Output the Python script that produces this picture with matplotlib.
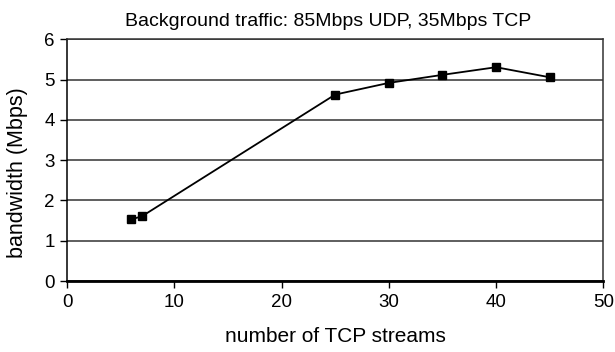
import matplotlib
matplotlib.use("Agg")
import matplotlib.pyplot as plt

# number of TCP streams vs. measured bandwidth
streams = [6, 7, 25, 30, 35, 40, 45]
bandwidth = [1.53, 1.61, 4.63, 4.92, 5.12, 5.31, 5.06]

plt.rcParams['font.family'] = ['Liberation Sans', 'DejaVu Sans']

fig = plt.figure(figsize=(6.15, 3.52), dpi=100)
ax = fig.add_axes([0.109, 0.2017, 0.872, 0.6863])

ax.plot(streams, bandwidth, color='black', lw=1.3, marker='s', ms=5.8,
        mfc='black', mec='black', zorder=3)

ax.set_xlim(0, 50)
ax.set_ylim(0, 6)
ax.set_xticks(range(0, 51, 10))
ax.set_yticks(range(0, 7))
ax.yaxis.grid(True, color='#333333', lw=1.1)
ax.set_axisbelow(True)

for side in ['top', 'right', 'left']:
    ax.spines[side].set_linewidth(1.1)
    ax.spines[side].set_color('#333333')
ax.spines['bottom'].set_linewidth(2)
ax.spines['left'].set_color('black')

ax.tick_params(axis='both', labelsize=13.5, length=5, width=1, direction='out', pad=4)

ax.set_xlabel('number of TCP streams', fontsize=15, labelpad=12)
ax.set_ylabel('bandwidth (Mbps)', fontsize=15.5)
ax.yaxis.set_label_coords(-0.072, 0.45)
ax.set_title('Background traffic: 85Mbps UDP, 35Mbps TCP', fontsize=14, pad=9.5, x=0.487)

fig.savefig('out.png', dpi=100)
